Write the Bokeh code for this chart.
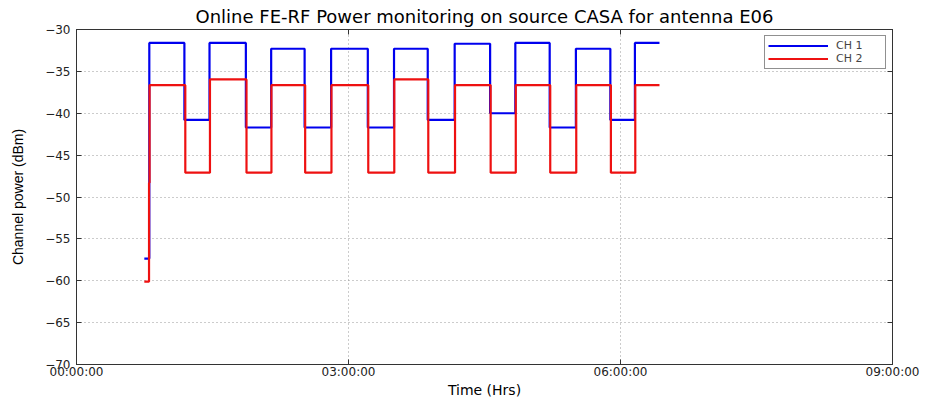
from bokeh.plotting import figure
from bokeh.models import (Range1d, FixedTicker, LinearAxis, CustomJSTickFormatter,
                          Legend, LegendItem)
from bokeh.embed import file_html
from bokeh.resources import INLINE

# ---- data (time in hours, power in dBm) ----
t_ch1 = [0.748, 0.803, 1.190, 1.467, 1.868, 2.147, 2.516, 2.808, 3.213, 3.502,
         3.874, 4.171, 4.562, 4.840, 5.219, 5.508, 5.888, 6.159, 6.430]
ch1 = [-57.35, -31.6, -40.8, -31.6, -41.7, -32.3, -41.7, -32.3, -41.7, -32.3,
       -40.8, -31.7, -40.0, -31.6, -41.7, -32.3, -40.8, -31.6, -31.6]

t_ch2 = [0.748, 0.800, 0.806, 1.200, 1.472, 1.875, 2.150, 2.522, 2.812, 3.218,
         3.505, 3.880, 4.175, 4.568, 4.845, 5.225, 5.512, 5.894, 6.163, 6.430]
ch2 = [-60.1, -48.3, -36.65, -47.1, -35.96, -47.1, -36.65, -47.1, -36.65, -47.1,
       -35.96, -47.1, -36.65, -47.1, -36.65, -47.1, -36.65, -47.1, -36.65, -36.65]

x_ticks = [0, 3, 6, 9]
x_tick_labels = ["00:00:00", "03:00:00", "06:00:00", "09:00:00"]
y_ticks = [-70, -65, -60, -55, -50, -45, -40, -35, -30]

FONT = "DejaVu Sans"

p = figure(width=932, height=400, x_range=Range1d(0, 9), y_range=Range1d(-70, -30),
           output_backend="svg", toolbar_location=None,
           title="Online FE-RF Power monitoring on source CASA for antenna E06")
p.min_border_left = 76
p.min_border_right = 40
p.min_border_top = 0
p.min_border_bottom = 0
p.background_fill_color = "white"
p.border_fill_color = "white"
p.outline_line_color = "#333333"

p.title.align = "center"
p.title.text_font = FONT
p.title.text_font_size = "18px"
p.title.text_font_style = "normal"
p.title.text_color = "black"
p.title.standoff = 6

# axes
xa = p.xaxis[0]
xa.ticker = FixedTicker(ticks=x_ticks)
xa.major_label_overrides = {t: l for t, l in zip(x_ticks, x_tick_labels)}
ya = p.yaxis[0]
ya.ticker = FixedTicker(ticks=y_ticks)
for ax in (xa, ya):
    ax.major_tick_in = 5
    ax.major_tick_out = 0
    ax.minor_tick_line_color = None
    ax.axis_line_color = "#333333"
    ax.major_tick_line_color = "#333333"
    ax.major_label_text_font = FONT
    ax.major_label_text_font_size = "12px"
    ax.major_label_text_color = "#222222"
    ax.axis_label_text_font_style = "normal"
    ax.axis_label_text_color = "black"
xa.major_label_standoff = 0
ya.major_label_standoff = 6
xa.axis_label = "Time (Hrs)"
xa.axis_label_text_font = FONT
xa.axis_label_text_font_size = "14px"
xa.axis_label_standoff = 0
ya.axis_label = "Channel power (dBm)"
ya.axis_label_text_font = "Liberation Sans"
ya.axis_label_text_font_size = "14px"
ya.axis_label_standoff = 16

# box ticks on top/right
blank = CustomJSTickFormatter(code="return ''")
ra = LinearAxis(ticker=FixedTicker(ticks=y_ticks), formatter=blank)
ta = LinearAxis(ticker=FixedTicker(ticks=x_ticks), formatter=blank)
for ax in (ra, ta):
    ax.major_tick_in = 5
    ax.major_tick_out = 0
    ax.minor_tick_line_color = None
    ax.axis_line_color = "#333333"
    ax.major_tick_line_color = "#333333"
    ax.major_label_standoff = 0
    ax.major_label_text_font_size = "1px"
p.add_layout(ra, "right")
p.add_layout(ta, "above")

# grid
p.xgrid.ticker = FixedTicker(ticks=x_ticks)
p.ygrid.ticker = FixedTicker(ticks=y_ticks)
for g in (p.xgrid[0], p.ygrid[0]):
    g.grid_line_color = "#999999"
    g.grid_line_dash = "1 3"
    g.grid_line_width = 1

r1 = p.step(t_ch1, ch1, mode="after", line_color="#0000ee", line_width=2.2)
r2 = p.step(t_ch2, ch2, mode="after", line_color="#ee1111", line_width=2.2)

legend = Legend(items=[LegendItem(label="CH 1", renderers=[r1]),
                       LegendItem(label="CH 2", renderers=[r2])],
                location="top_right")
legend.label_text_font = FONT
legend.label_text_font_size = "11px"
legend.label_text_line_height = 1.0
legend.glyph_width = 60
legend.glyph_height = 11
legend.label_height = 11
legend.label_width = 46
legend.label_standoff = 8
legend.spacing = 0
legend.padding = 3
legend.margin = 6
legend.border_line_color = "#222222"
legend.border_line_width = 1
legend.background_fill_alpha = 1
p.add_layout(legend)

open("out.html", "w").write(file_html(p, INLINE))
